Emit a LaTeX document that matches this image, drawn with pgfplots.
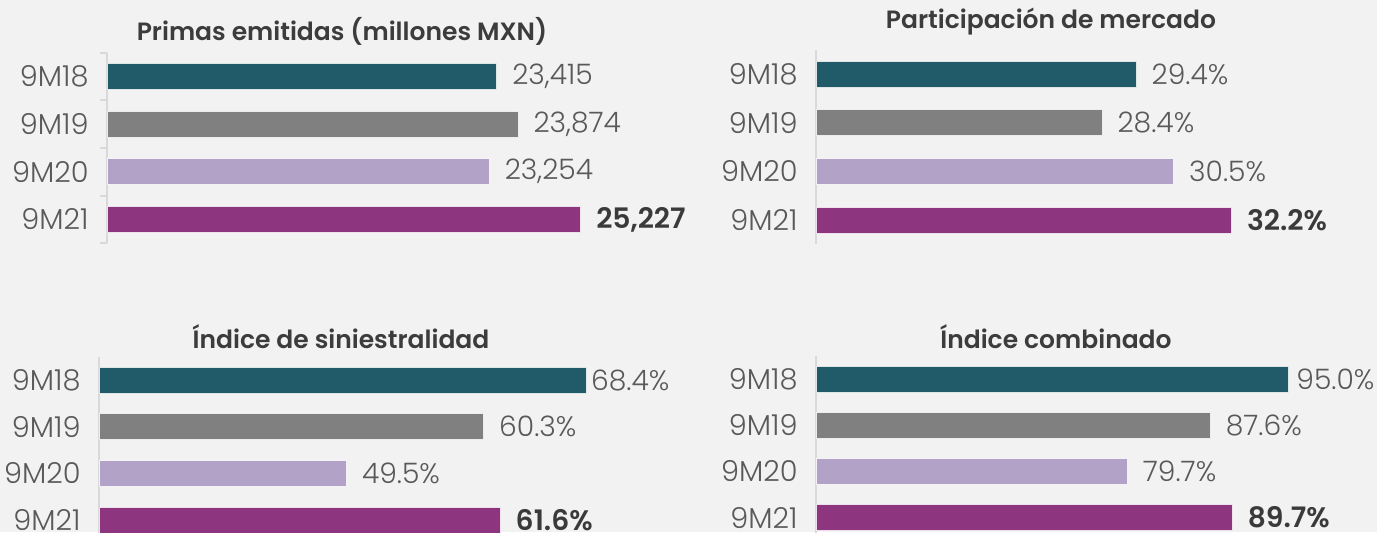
\documentclass[border=0pt]{standalone}
\usepackage{pgfplots}
\pgfplotsset{compat=1.18}
\usepackage{fontspec}
\setmainfont{Poppins}
\IfFontExistsTF{Poppins Light}{\newfontfamily\lightfont{Poppins Light}}{\newcommand\lightfont{\normalfont}}
\IfFontExistsTF{Poppins SemiBold}{\newfontfamily\titlefont{Poppins SemiBold}}{\newcommand\titlefont{\bfseries}}
\definecolor{bg}{HTML}{F2F2F2}
\definecolor{axisgray}{HTML}{D9D9D9}
\definecolor{labelgray}{HTML}{595959}
\definecolor{boldgray}{HTML}{3A3A3A}
\definecolor{titlegray}{HTML}{3C3C3C}
\definecolor{cA}{HTML}{215A69}
\definecolor{cB}{HTML}{808080}
\definecolor{cC}{HTML}{B3A2C7}
\definecolor{cD}{HTML}{8E3580}
\newcommand\lblfont{\lightfont\fontsize{14.4}{17}\selectfont}
\newcommand\vallfont{\lightfont\fontsize{14.1}{17}\selectfont}
\newcommand\boldlbl{\titlefont\fontsize{14.1}{17}\selectfont}
\newcommand\ttlfont{\titlefont\fontsize{12.5}{15}\selectfont}
\pgfplotsset{panel/.style={
  scale only axis, anchor=north west, xbar, bar width=13pt, bar shift=0pt,
  y dir=reverse, ymin=-0.5, ymax=3.5, ytick={0,1,2,3},
  yticklabels={9M18,9M19,9M20,9M21},
  hide x axis, axis y line*=left,
  y axis line style={draw=axisgray, line width=1pt},
  major tick length=0pt,
  yticklabel style={font=\lblfont, text=labelgray, inner sep=0pt, xshift=-9pt},
  nodes near coords, point meta=explicit symbolic,
  every node near coord/.append style={font=\vallfont, text=labelgray, inner sep=0pt, xshift=7.5pt, anchor=west},
  },
  barA/.style={fill=cA, draw=white!85!cA, line width=0.4pt},
  barB/.style={fill=cB, draw=white!85!cB, line width=0.4pt},
  barC/.style={fill=cC, draw=white!85!cC, line width=0.4pt},
  barD/.style={fill=cD, draw=white!85!cD, line width=0.4pt,
    every node near coord/.append style={font=\boldlbl, text=boldgray}},
}
\begin{document}
\begin{tikzpicture}
\path[use as bounding box] (0pt,0pt) rectangle (688.5pt,-266pt);
\fill[bg] (0pt,0pt) rectangle (688.5pt,-266pt);
\clip (0pt,0pt) rectangle (688.5pt,-266pt);
\begin{scope}[x=0.5pt,y=-0.5pt]
\node[font=\ttlfont, text=titlegray] at (342,31) {Primas emitidas (millones MXN)};
\node[font=\ttlfont, text=titlegray] at (1051,22) {Participación de mercado};
\node[font=\ttlfont, text=titlegray] at (341,337) {Índice de siniestralidad};
\node[font=\ttlfont, text=titlegray] at (1056,337) {Índice combinado};
\end{scope}

% Panel 1
\begin{axis}[panel, at={(53.5pt,-26.25pt)}, width=278pt, height=95.4pt,
  xmin=15000, xmax=27000,
  extra y ticks={-0.5,0.5,1.5,2.5,3.5}, extra y tick labels={},
  extra y tick style={major tick length=3.5pt, tick align=outside, tick style={draw=axisgray, line width=1pt}}]
\addplot[barA] coordinates {(23415,0) [23,415]};
\addplot[barB] coordinates {(23874,1) [23,874]};
\addplot[barC] coordinates {(23254,2) [23,254]};
\addplot[barD] coordinates {(25227,3) [25,227]};
\end{axis}

% Panel 2
\begin{axis}[panel, at={(408pt,-24.85pt)}, width=238.5pt, height=97.35pt,
  xmin=20, xmax=34]
\addplot[barA] coordinates {(29.4,0) [29.4\%]};
\addplot[barB] coordinates {(28.4,1) [28.4\%]};
\addplot[barC] coordinates {(30.5,2) [30.5\%]};
\addplot[barD] coordinates {(32.2,3) [32.2\%]};
\end{axis}

% Panel 3
\begin{axis}[panel, at={(49.5pt,-178.35pt)}, width=285.75pt, height=93.4pt,
  xmin=30, xmax=75]
\addplot[barA, every node near coord/.append style={xshift=-5.5pt}] coordinates {(68.4,0) [68.4\%]};
\addplot[barB] coordinates {(60.3,1) [60.3\%]};
\addplot[barC] coordinates {(49.5,2) [49.5\%]};
\addplot[barD] coordinates {(61.6,3) [61.6\%]};
\end{axis}

% Panel 4
\begin{axis}[panel, at={(408pt,-177.9pt)}, width=262.25pt, height=92.5pt,
  xmin=50, xmax=100]
\addplot[barA, every node near coord/.append style={xshift=-3.5pt}] coordinates {(95.0,0) [95.0\%]};
\addplot[barB] coordinates {(87.6,1) [87.6\%]};
\addplot[barC] coordinates {(79.7,2) [79.7\%]};
\addplot[barD] coordinates {(89.7,3) [89.7\%]};
\end{axis}
\end{tikzpicture}
\end{document}
